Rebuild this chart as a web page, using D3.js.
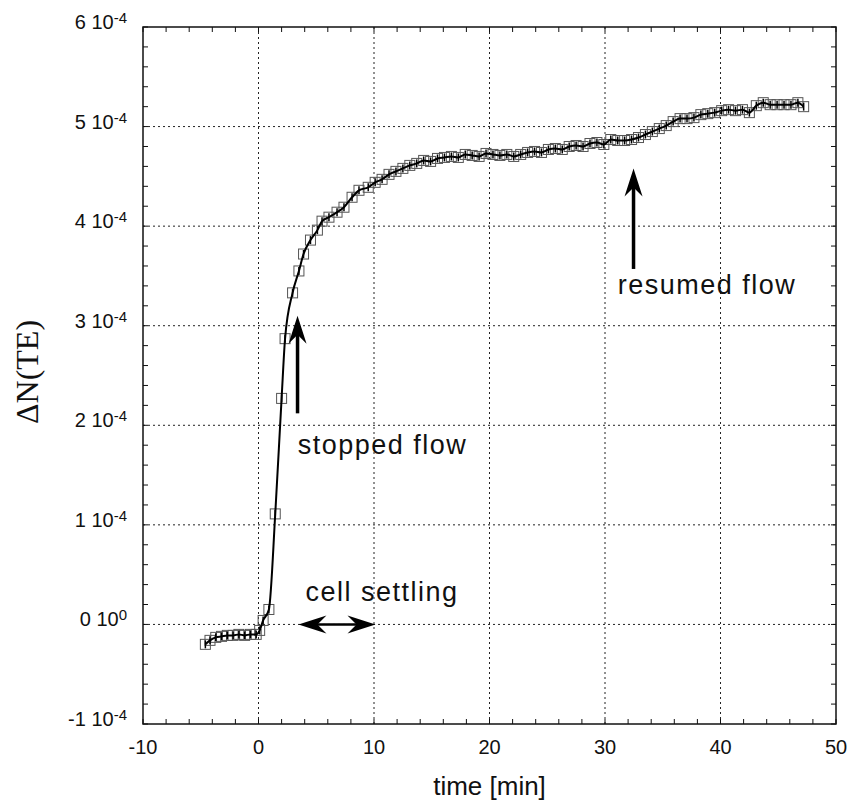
<!DOCTYPE html>
<html>
<head>
<meta charset="utf-8">
<script src="https://cdn.jsdelivr.net/npm/d3@7"></script>
<style>
  body { margin: 0; background: #fff; }
  text { font-family: "Liberation Sans", Arial, Helvetica, sans-serif; fill: #111; }
</style>
</head>
<body>
<svg id="canvas" width="847" height="805"></svg>
<script>
// time [min] and signal (units of 1e-4)
const times = [-4.6, -4.2, -3.7, -3.2, -2.7, -2.2, -1.7, -1.2, -0.7, -0.2, 0.1, 0.4, 0.9, 1.45, 2.0, 2.3, 2.95, 3.5, 3.9, 4.5,
  5.1, 5.5, 6.1, 6.8, 7.4, 8.1, 8.7, 9.5, 10.1, 10.7, 11.3, 11.9, 12.5, 13.1, 13.7, 14.3, 14.9, 15.5, 16.1, 16.7,
  17.3, 17.9, 18.5, 19.1, 19.7, 20.3, 20.9, 21.5, 22.1, 22.7, 23.3, 23.9, 24.5, 25.1, 25.7, 26.3, 26.9, 27.5, 28.1, 28.7,
  29.3, 29.9, 30.5, 31.1, 31.7, 32.3, 32.9, 33.5, 34.1, 34.7, 35.3, 35.9, 36.5, 37.1, 37.7, 38.3, 38.9, 39.5, 40.1, 40.7,
  41.3, 41.9, 42.5, 43.1, 43.7, 44.3, 44.9, 45.5, 46.1, 46.7, 47.2]
const signal = [-0.20, -0.16, -0.13, -0.12, -0.11, -0.11, -0.10, -0.11, -0.10, -0.10, -0.06, 0.04, 0.15, 1.11, 2.27, 2.87, 3.33, 3.55, 3.72, 3.86,
  3.96, 4.05, 4.09, 4.14, 4.19, 4.29, 4.36, 4.39, 4.44, 4.47, 4.52, 4.55, 4.58, 4.61, 4.63, 4.66, 4.65, 4.68, 4.69, 4.70,
  4.69, 4.72, 4.71, 4.70, 4.73, 4.72, 4.71, 4.72, 4.70, 4.72, 4.74, 4.75, 4.74, 4.77, 4.78, 4.77, 4.80, 4.81, 4.80, 4.83,
  4.84, 4.82, 4.87, 4.86, 4.86, 4.87, 4.89, 4.92, 4.95, 4.98, 5.01, 5.05, 5.08, 5.08, 5.09, 5.12, 5.13, 5.14, 5.16, 5.17,
  5.16, 5.17, 5.14, 5.21, 5.24, 5.22, 5.22, 5.22, 5.22, 5.24, 5.20]

const xTicks = [-10, 0, 10, 20, 30, 40, 50]
const yTicks = [-1, 0, 1, 2, 3, 4, 5, 6]
const yMant = ["-1", "0", "1", "2", "3", "4", "5", "6"]
const yExp = ["-4", "0", "-4", "-4", "-4", "-4", "-4", "-4"]

// annotations in data units
const notes = [
  { text: "stopped flow", t: 3.4, v: 1.71 },
  { text: "resumed flow", t: 31.1, v: 3.32 },
  { text: "cell settling", t: 4.07, v: 0.24 }
]
const upArrows = [
  { t: 3.38, from: 2.12, to: 3.10 },
  { t: 32.47, from: 3.57, to: 4.58 }
]
const sideArrow = { from: 3.46, to: 10.13, v: 0 }

const svg = d3.select("#canvas")
const m = { top: 27, right: 11, bottom: 81, left: 143 }
const W = 847 - m.left - m.right
const H = 805 - m.top - m.bottom

const x = d3.scaleLinear().domain([-10, 50]).range([m.left, m.left + W])
const y = d3.scaleLinear().domain([-1, 6]).range([m.top + H, m.top])

const g = svg.append("g")

// grid
g.append("g").selectAll("line")
  .data(xTicks.slice(1, -1)).enter().append("line")
  .attr("x1", d => x(d)).attr("x2", d => x(d))
  .attr("y1", m.top).attr("y2", m.top + H)
  .attr("stroke", "#222").attr("stroke-width", 1).attr("stroke-dasharray", "2,3")
g.append("g").selectAll("line")
  .data(yTicks.slice(1, -1)).enter().append("line")
  .attr("y1", d => y(d)).attr("y2", d => y(d))
  .attr("x1", m.left).attr("x2", m.left + W)
  .attr("stroke", "#222").attr("stroke-width", 1).attr("stroke-dasharray", "2,3")

// minor ticks, inside on all four sides
const xMinor = d3.range(-10, 50.01, 2)
const yMinor = d3.range(-1, 6.01, 0.2)
const tk = 5
g.append("g").selectAll("line").data(xMinor).enter().append("line")
  .attr("x1", d => x(d)).attr("x2", d => x(d))
  .attr("y1", m.top + H).attr("y2", m.top + H - tk)
  .attr("stroke", "#111")
g.append("g").selectAll("line").data(xMinor).enter().append("line")
  .attr("x1", d => x(d)).attr("x2", d => x(d))
  .attr("y1", m.top).attr("y2", m.top + tk)
  .attr("stroke", "#111")
g.append("g").selectAll("line").data(yMinor).enter().append("line")
  .attr("y1", d => y(d)).attr("y2", d => y(d))
  .attr("x1", m.left).attr("x2", m.left + tk)
  .attr("stroke", "#111")
g.append("g").selectAll("line").data(yMinor).enter().append("line")
  .attr("y1", d => y(d)).attr("y2", d => y(d))
  .attr("x1", m.left + W).attr("x2", m.left + W - tk)
  .attr("stroke", "#111")

// frame
g.append("rect")
  .attr("x", m.left).attr("y", m.top).attr("width", W).attr("height", H)
  .attr("fill", "none").attr("stroke", "#111").attr("stroke-width", 1.5)

// tick labels
g.append("g").selectAll("text").data(xTicks).enter().append("text")
  .attr("x", d => x(d)).attr("y", m.top + H + 30)
  .attr("text-anchor", "middle").attr("font-size", 20)
  .text(d => d)

const yl = g.append("g").selectAll("text").data(yTicks).enter().append("text")
  .attr("x", m.left - 16).attr("y", d => y(d) + 2)
  .attr("text-anchor", "end").attr("font-size", 20)
yl.append("tspan").text((d, i) => yMant[i] + " 10")
yl.append("tspan").attr("dy", -6).attr("font-size", 15).text((d, i) => yExp[i])

// axis titles
g.append("text")
  .attr("x", x(20)).attr("y", 795)
  .attr("text-anchor", "middle").attr("font-size", 26)
  .text("time [min]")
g.append("text")
  .attr("transform", "translate(38,372) rotate(-90)")
  .attr("text-anchor", "middle").attr("font-size", 32)
  .style("font-family", "'Liberation Serif', 'Times New Roman', serif")
  .text("\u0394N(TE)")

// data
const pts = times.map((t, i) => [t, signal[i]])

g.append("g").selectAll("rect").data(pts).enter().append("rect")
  .attr("x", d => x(d[0]) - 5).attr("y", d => y(d[1]) - 5)
  .attr("width", 10).attr("height", 10)
  .attr("fill", "none").attr("stroke", "#555").attr("stroke-width", 1)

const line = d3.line().x(d => x(d[0])).y(d => y(d[1])).curve(d3.curveMonotoneX)
g.append("path").datum(pts)
  .attr("d", line).attr("fill", "none")
  .attr("stroke", "#000").attr("stroke-width", 2)

g.append("g").selectAll("line").data(pts).enter().append("line")
  .attr("x1", d => x(d[0])).attr("x2", d => x(d[0]))
  .attr("y1", d => y(d[1]) - 4).attr("y2", d => y(d[1]) + 4)
  .attr("stroke", "#000").attr("stroke-width", 1.5)

// annotations
g.append("g").selectAll("text").data(notes).enter().append("text")
  .attr("x", d => x(d.t)).attr("y", d => y(d.v))
  .attr("font-size", 27).attr("letter-spacing", 1.5)
  .text(d => d.text)

function head(px, py, dir) {
  // dir: unit vector pointing toward tip
  const L = 28, Wd = 9, notch = 9
  const [ux, uy] = dir
  const nx = -uy, ny = ux
  const bx = px - ux * L, by = py - uy * L
  const cx = px - ux * (L - notch), cy = py - uy * (L - notch)
  return "M" + px + "," + py +
    "L" + (bx + nx * Wd) + "," + (by + ny * Wd) +
    "L" + cx + "," + cy +
    "L" + (bx - nx * Wd) + "," + (by - ny * Wd) + "Z"
}

upArrows.forEach(a => {
  g.append("line")
    .attr("x1", x(a.t)).attr("x2", x(a.t))
    .attr("y1", y(a.from)).attr("y2", y(a.to) + 15)
    .attr("stroke", "#000").attr("stroke-width", 3.5)
  g.append("path").attr("d", head(x(a.t), y(a.to), [0, -1])).attr("fill", "#000")
})

g.append("line")
  .attr("x1", x(sideArrow.from) + 15).attr("x2", x(sideArrow.to) - 15)
  .attr("y1", y(sideArrow.v)).attr("y2", y(sideArrow.v))
  .attr("stroke", "#000").attr("stroke-width", 2.5)
g.append("path").attr("d", head(x(sideArrow.from), y(sideArrow.v), [-1, 0])).attr("fill", "#000")
g.append("path").attr("d", head(x(sideArrow.to), y(sideArrow.v), [1, 0])).attr("fill", "#000")
</script>
</body>
</html>
